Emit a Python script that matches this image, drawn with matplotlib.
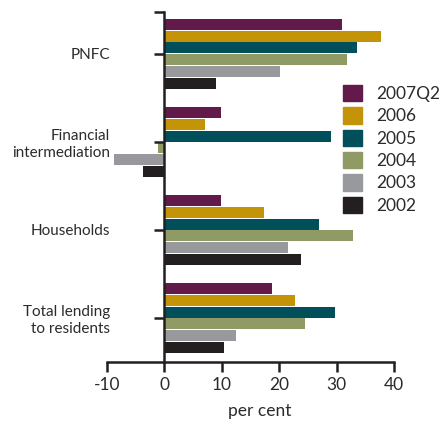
import matplotlib
matplotlib.use("Agg")
import matplotlib.pyplot as plt
import matplotlib.patches as mpatches
import numpy as np

# Datos
categorias = ["PNFC", "Financial\nintermediation", "Households", "Total lending\nto residents"]
series = ["2007Q2", "2006", "2005", "2004", "2003", "2002"]
colores = ["#621a4a", "#c39308", "#004f5a", "#8f9a65", "#98999d", "#231f20"]

v_2007q2 = [30.9, 9.9, 9.9, 18.8]
v_2006 = [37.7, 7.1, 17.4, 22.8]
v_2005 = [33.6, 29.0, 27.0, 29.7]
v_2004 = [31.8, -1.2, 32.9, 24.5]
v_2003 = [20.2, -8.7, 21.6, 12.5]
v_2002 = [9.0, -3.8, 23.8, 10.3]
valores = [v_2007q2, v_2006, v_2005, v_2004, v_2003, v_2002]

xticks = [-10, 0, 10, 20, 30, 40]

plt.rcParams["font.family"] = ["Lato", "DejaVu Sans"]
texto = "#2b2b2b"

fig = plt.figure(figsize=(4.46, 4.22), dpi=100)
ax = fig.add_axes([107 / 446, 1 - 362 / 422, (394 - 107) / 446, 350 / 422])

pos = np.arange(len(categorias))
paso = 0.136
alto = 0.125
for i, (nombre, vals, c) in enumerate(zip(series, valores, colores)):
    ax.barh(pos + (i - 2.5) * paso, vals, height=alto, color=c, label=nombre)

ax.set_xlim(-10, 40)
ax.set_ylim(3.5, -0.477)

ax.spines["top"].set_visible(False)
ax.spines["right"].set_visible(False)
ax.spines["left"].set_position(("data", 0))
for s in ["left", "bottom"]:
    ax.spines[s].set_linewidth(1.8)
    ax.spines[s].set_color("#231f20")

ax.set_yticks([-0.477] + list(pos))
ax.set_yticklabels([""] + categorias, fontsize=11, color=texto, linespacing=1.25)
ax.tick_params(axis="y", direction="out", length=7, width=1.8, color="#231f20", pad=32)
ax.set_xticks(xticks)
ax.set_xticklabels([str(t) for t in xticks], fontsize=12.5, color=texto)
ax.tick_params(axis="x", direction="out", length=7, width=1.8, color="#231f20", pad=4)

fig.text(260 / 446, 1 - 411 / 422, "per cent", ha="center", va="center", fontsize=12.5, color=texto)

handles = [mpatches.Patch(color=c) for c in colores]
leg = fig.legend(handles, series, loc="upper left", bbox_to_anchor=(343 / 446, 1 - 85 / 422),
                 frameon=False, fontsize=12.5, handlelength=1.08, handleheight=1.08,
                 handletextpad=0.82, labelspacing=0.3, borderaxespad=0, borderpad=0)
for t in leg.get_texts():
    t.set_color(texto)

fig.savefig("out.png", dpi=100)
